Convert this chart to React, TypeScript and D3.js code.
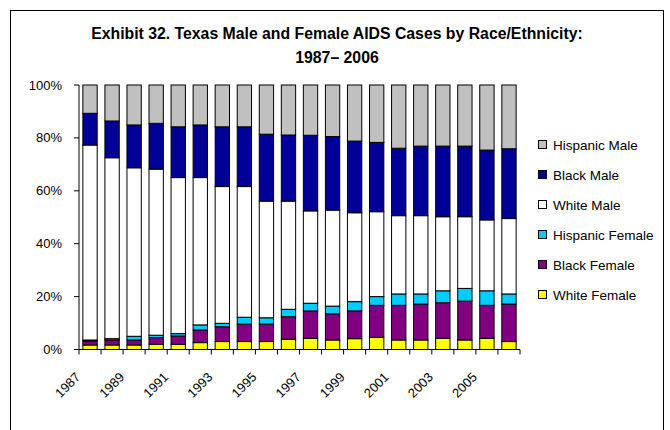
import React from "react";
import * as d3 from "d3";

const years = [
  "1987","1988","1989","1990","1991","1992","1993","1994","1995","1996",
  "1997","1998","1999","2000","2001","2002","2003","2004","2005","2006",
];
const whiteFemale = [1.7,1.7,1.7,2.0,2.0,2.6,3.0,3.0,3.0,3.9,4.2,3.6,4.1,4.6,3.6,3.6,4.2,3.6,4.2,3.0];
const blackFemale = [1.5,1.9,1.9,2.5,3.1,4.8,5.6,6.6,6.6,8.5,10.4,9.9,10.5,12.1,13.1,13.6,13.5,14.7,12.5,14.2];
const hispanicFemale = [0.4,0.5,1.4,0.9,0.9,1.9,1.3,2.6,2.4,2.8,2.9,2.9,3.5,3.3,4.3,3.8,4.5,4.8,5.5,3.8];
const whiteMale = [73.7,68.4,63.7,62.8,59.0,55.7,51.7,49.4,44.1,40.9,34.9,36.3,33.6,32.1,29.6,29.6,28.0,27.1,26.8,28.5];
const blackMale = [12.0,13.9,16.2,17.3,19.2,19.9,22.6,22.6,25.3,25.0,28.6,27.8,27.1,26.2,25.5,26.3,26.7,26.7,26.4,26.4];
const hispanicMale = [10.7,13.6,15.1,14.5,15.8,15.1,15.8,15.8,18.6,18.9,19.0,19.5,21.2,21.7,23.9,23.1,23.1,23.1,24.6,24.1];

const seriesNames = ["White Female","Black Female","Hispanic Female","White Male","Black Male","Hispanic Male"];
const seriesValues = [whiteFemale, blackFemale, hispanicFemale, whiteMale, blackMale, hispanicMale];
const seriesColors = ["#FFFF00","#800080","#00CCFF","#FFFFFF","#000099","#C0C0C0"];
const yTicks = [0, 0.2, 0.4, 0.6, 0.8, 1.0];
const titleLines = ["Exhibit 32. Texas Male and Female AIDS Cases by Race/Ethnicity:", "1987\u2013 2006"];

const FONT = "'Liberation Sans', Arial, sans-serif";

export default function App() {
  const W = 670, H = 430;
  const x0 = 79, x1 = 520, yTop = 85, yBot = 349.5;

  const rows = years.map((yr, i) => {
    const r: any = { year: yr };
    seriesNames.forEach((s, k) => (r[s] = seriesValues[k][i]));
    return r;
  });
  const stack = d3.stack<any>().keys(seriesNames).offset(d3.stackOffsetExpand).order(d3.stackOrderNone);
  const stacked = stack(rows);

  const x = d3.scaleBand<string>().domain(years).range([x0, x1]).paddingInner(0.35).paddingOuter(0.175);
  const y = d3.scaleLinear().domain([0, 1]).range([yBot, yTop]);
  const step = x.step();
  const legendItems = seriesNames.map((n, i) => ({ n, c: seriesColors[i] })).reverse();

  return (
    <svg width={W} height={H} style={{ position: "absolute", left: 0, top: 0, background: "#fff" }} fontFamily={FONT}>
      <rect x={10.5} y={10.5} width={653} height={440} fill="#fff" stroke="#000" strokeWidth={1} />
      {titleLines.map((t, i) => (
        <text key={i} x={337} y={39 + i * 24} textAnchor="middle" fontSize={15.8} fontWeight="bold" fill="#000">{t}</text>
      ))}
      {stacked.map((s, k) => (
        <g key={k} fill={seriesColors[k]} stroke="#000" strokeWidth={1}>
          {s.map((d, i) => (
            <rect key={i} x={x(years[i])!} y={y(d[1])} width={x.bandwidth()} height={Math.max(0, y(d[0]) - y(d[1]))} />
          ))}
        </g>
      ))}
      <line x1={x0} x2={x0} y1={yTop} y2={yBot} stroke="#000" />
      <line x1={x0} x2={x1} y1={yBot} y2={yBot} stroke="#000" />
      {yTicks.map((t) => (
        <g key={t}>
          <line x1={x0 - 5} x2={x0} y1={y(t)} y2={y(t)} stroke="#000" />
          <text x={62} y={y(t)} dy="0.35em" textAnchor="end" fontSize={13} fill="#000">{Math.round(t * 100)}%</text>
        </g>
      ))}
      {d3.range(years.length + 1).map((i) => (
        <line key={i} x1={x0 + i * step} x2={x0 + i * step} y1={yBot} y2={yBot + 5} stroke="#000" />
      ))}
      {years.map((yr, i) =>
        i % 2 === 0 ? (
          <text key={yr} transform={`translate(${x(yr)! + x.bandwidth() / 2 - 9},378) rotate(-45)`} textAnchor="end" fontSize={13} fill="#000">{yr}</text>
        ) : null
      )}
      {legendItems.map((it, i) => (
        <g key={it.n} transform={`translate(0,${145 + i * 30})`}>
          <rect x={538.5} y={-4.5} width={8} height={8} fill={it.c} stroke="#000" />
          <text x={553} y={0} dy="0.35em" fontSize={13.5} fill="#000">{it.n}</text>
        </g>
      ))}
    </svg>
  );
}
